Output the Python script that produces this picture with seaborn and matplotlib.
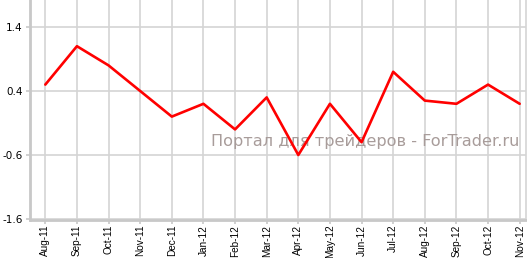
import matplotlib
matplotlib.use("Agg")
import matplotlib.pyplot as plt
import seaborn as sns
import pandas as pd
import numpy as np

months = ["Aug-11", "Sep-11", "Oct-11", "Nov-11", "Dec-11", "Jan-12", "Feb-12", "Mar-12",
          "Apr-12", "May-12", "Jun-12", "Jul-12", "Aug-12", "Sep-12", "Oct-12", "Nov-12"]
values = [0.5, 1.1, 0.8, 0.4, 0.0, 0.2, -0.2, 0.3, -0.6, 0.2, -0.4, 0.7, 0.25, 0.2, 0.5, 0.2]
yticks = [-1.6, -0.6, 0.4, 1.4]

sns.set_theme(style="white")
plt.rcParams['font.family'] = ['DejaVu Sans']

df = pd.DataFrame({"idx": np.arange(len(months)), "value": values})

fig = plt.figure(figsize=(5.27, 2.58), dpi=100)
ax = fig.add_axes([29.5/527, 1 - 220/258, (526 - 29.5)/527, 220/258])

sns.lineplot(data=df, x="idx", y="value", ax=ax, color="#ff0000", linewidth=1.9, zorder=3)

ax.set_xlim(-0.5, len(months) - 1 + 0.2)
ax.set_ylim(-1.6 - 1/64, 1.4 + 27/64)
ax.set_xticks(df["idx"])
ax.set_xticklabels(months, rotation=90, fontsize=7.2, family="Liberation Sans")
ax.set_yticks(yticks)
ax.set_yticklabels([f"{t:.1f}" for t in yticks], fontsize=7.5)
ax.set_xlabel("")
ax.set_ylabel("")

ax.grid(True, color="#d4d4d4", linewidth=1.2)
ax.set_axisbelow(True)
ax.spines["top"].set_visible(False)
ax.spines["right"].set_color("#d4d4d4")
ax.spines["right"].set_linewidth(1.2)
for s in ["left", "bottom"]:
    ax.spines[s].set_color("#c8c8c8")
    ax.spines[s].set_linewidth(2)
ax.tick_params(axis="x", bottom=True, length=3, width=1.2, color="#c8c8c8", pad=0.5, labelcolor="black")
ax.tick_params(axis="y", left=True, length=3, width=1.2, color="#c8c8c8", pad=2, labelcolor="black")

ax.text(0.676, 0.355, "Портал для трейдеров - ForTrader.ru", transform=ax.transAxes,
        ha="center", va="center", fontsize=11.6, color="#a89c9a", zorder=2.5)

fig.savefig("out.png", dpi=100)
